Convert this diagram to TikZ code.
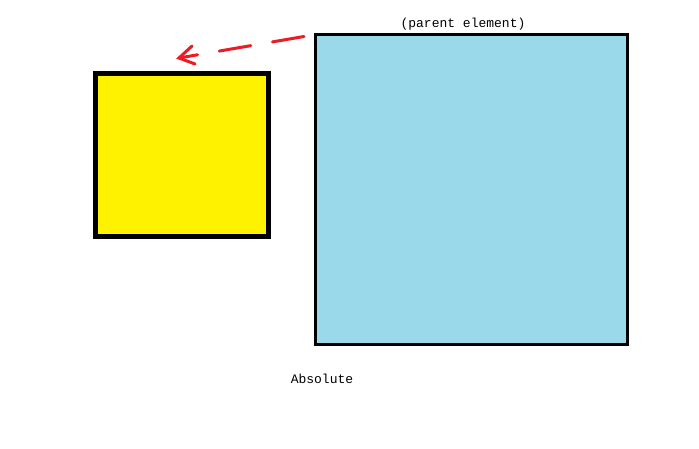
\documentclass[tikz,border=0pt]{standalone}
\usepackage{fontspec}
\setmonofont{Liberation Mono}
\definecolor{pyellow}{RGB}{255,242,0}
\definecolor{pblue}{RGB}{153,217,234}
\definecolor{pred}{RGB}{237,28,36}
\begin{document}
\begin{tikzpicture}[x=1pt,y=-1pt,
  lbl/.style={font=\ttfamily\fontsize{13}{14}\selectfont, inner sep=0pt},
  redarrow/.style={draw=pred, line width=3pt, dash pattern=on 32pt off 22pt, line cap=round}]
\useasboundingbox (0,0) rectangle (699,449);
\fill[white] (0,0) rectangle (699,449);
\draw[line width=5pt, fill=pyellow] (95.5,73.5) rectangle (268,237) ;
\node[inner sep=0pt] (yellow) at (181.75,155.25) {};
\draw[line width=3pt, fill=pblue] (315.5,34.5) rectangle (627,344);
\node[inner sep=0pt] (blue) at (471,189) {};
\node[lbl] (parent) at (463,24) {(parent element)};
\node[lbl] (abs) at (322,379) {Absolute};
\coordinate (s) at (304,36.5);
\coordinate (t) at (179,58);
\draw[redarrow] (s) -- (t);
\draw[draw=pred, line width=3pt, line cap=round] (192,46) -- (t) -- (195,64);
\end{tikzpicture}
\end{document}
